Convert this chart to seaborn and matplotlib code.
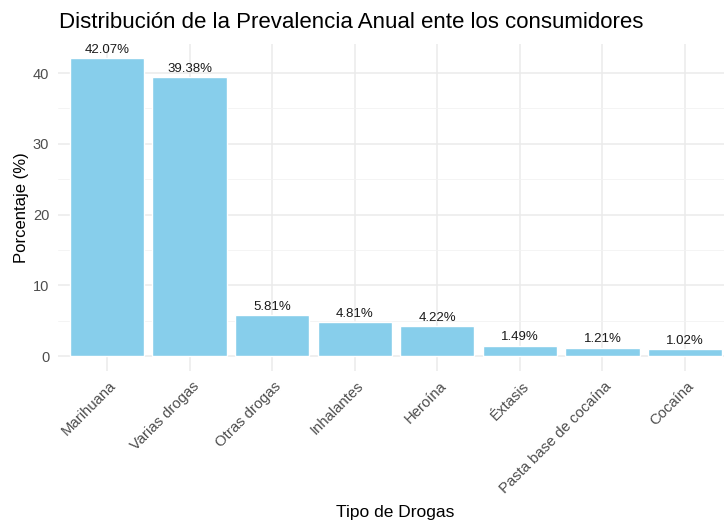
import matplotlib
matplotlib.use("Agg")
import matplotlib.pyplot as plt
import seaborn as sns
import pandas as pd
from matplotlib.ticker import MultipleLocator

drogas = ["Marihuana", "Varias drogas", "Otras drogas", "Inhalantes", "Heroína",
          "Éxtasis", "Pasta base de cocaína", "Cocaína"]
porcentaje = [42.07, 39.38, 5.81, 4.81, 4.22, 1.49, 1.21, 1.02]
etiquetas = ["42.07%", "39.38%", "5.81%", "4.81%", "4.22%", "1.49%", "1.21%", "1.02%"]

df = pd.DataFrame({"Tipo": drogas, "Porcentaje": porcentaje})

sns.set_style("white")
plt.rcParams["font.family"] = ["Liberation Sans", "DejaVu Sans"]

fig = plt.figure(figsize=(7.24, 5.23), dpi=100)
ax = fig.add_axes([57.5 / 724, 1 - 371 / 523, (734.5 - 57.5) / 724, (371 - 43.5) / 523])

sns.barplot(data=df, x="Tipo", y="Porcentaje", color="#87CEEB", width=0.9,
            saturation=1, ax=ax, zorder=3)

ax.set_xlim(-0.6, len(drogas) - 0.4)
ymax = max(porcentaje)
ax.set_ylim(-0.05 * ymax, ymax * 1.05)
ax.yaxis.set_major_locator(MultipleLocator(10))
ax.yaxis.set_minor_locator(MultipleLocator(5))
ax.grid(which="major", axis="both", color="#EBEBEB", linewidth=1.1, zorder=0)
ax.grid(which="minor", axis="y", color="#F2F2F2", linewidth=0.6, zorder=0)
ax.set_axisbelow(True)
for s in ax.spines.values():
    s.set_visible(False)
ax.tick_params(axis="both", which="both", length=0, colors="#4D4D4D", labelsize=10.5)
ax.tick_params(axis="y", pad=6)

for i, (v, t) in enumerate(zip(porcentaje, etiquetas)):
    ax.annotate(t, (i, v), xytext=(0, 1.5), textcoords="offset points",
                ha="center", va="bottom", fontsize=9.5, color="#1a1a1a", zorder=4)

ax.set_xticks(range(len(drogas)))
ax.set_xticklabels(drogas, rotation=45, ha="right", va="top", rotation_mode="anchor",
                   fontsize=10.7, color="#4D4D4D")
for lbl in ax.get_xticklabels():
    lbl.set_transform(lbl.get_transform() + matplotlib.transforms.ScaledTranslation(2 / 100, -3 / 100, fig.dpi_scale_trans))

ax.set_xlabel("Tipo de Drogas", fontsize=12.5, color="black")
ax.xaxis.set_label_coords((395 - 57.5) / (734.5 - 57.5), -(513 - 371) / (371 - 43.5))
ax.xaxis.label.set_va("center")
ax.set_ylabel("Porcentaje (%)", fontsize=12, color="black", labelpad=3)

fig.text(59 / 724, 1 - 22 / 523, "Distribución de la Prevalencia Anual ente los consumidores",
         fontsize=16, ha="left", va="center", color="black")

fig.savefig("out.png", dpi=100, facecolor="white")
